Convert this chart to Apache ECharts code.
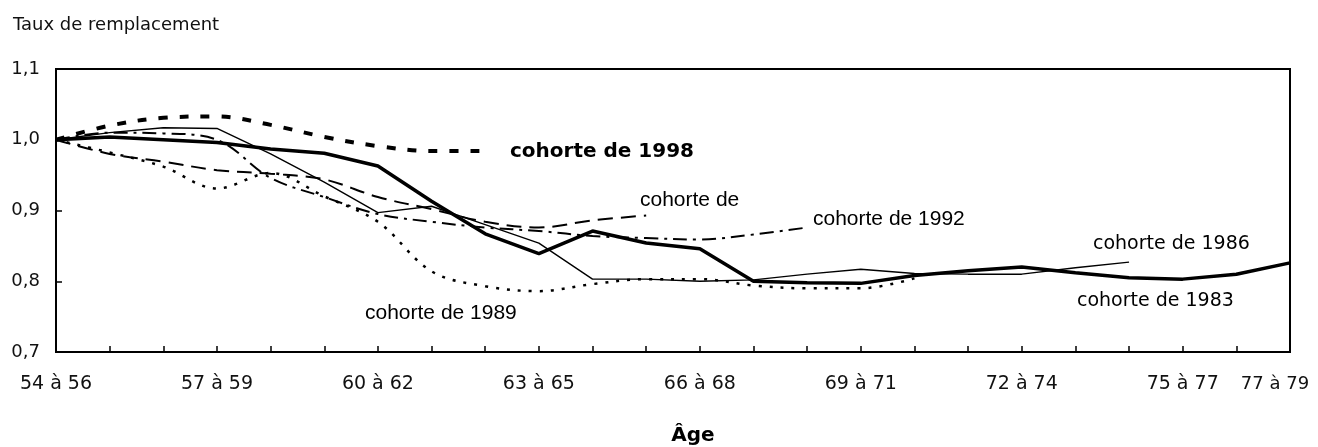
<!DOCTYPE html>
<html>
<head>
    <meta charset="utf-8">
    <title>Taux de remplacement par cohorte</title>
    <style type="text/css">
        body {
            margin: 0;
            background: #fff;
        }
        html, body, #chart {
            width: 1318px;
            height: 447px;
        }
    </style>
</head>
<body>

    <div id="chart"></div>
    <script src="https://cdn.jsdelivr.net/npm/echarts@6/dist/echarts.min.js"></script>

    <script>
        var ages = [
            '54 à 56', '55 à 57', '56 à 58', '57 à 59', '58 à 60', '59 à 61',
            '60 à 62', '61 à 63', '62 à 64', '63 à 65', '64 à 66', '65 à 67',
            '66 à 68', '67 à 69', '68 à 70', '69 à 71', '70 à 72', '71 à 73',
            '72 à 74', '73 à 75', '74 à 76', '75 à 77', '76 à 78', '77 à 79'
        ];

        var cohorte1983 = [1.000, 1.004, 1.000, 0.996, 0.987, 0.981, 0.963, 0.913, 0.867, 0.839, 0.871, 0.854,
                           0.846, 0.800, 0.798, 0.797, 0.808, 0.815, 0.820, 0.812, 0.805, 0.803, 0.810, 0.826];
        var cohorte1986 = [1.000, 1.010, 1.017, 1.016, 0.980, 0.940, 0.897, 0.906, 0.880, 0.854, 0.803, 0.803,
                           0.800, 0.802, 0.810, 0.817, 0.811, 0.810, 0.810, 0.819, 0.827, null, null, null];
        var cohorte1989 = [1.000, 0.982, 0.962, 0.931, 0.953, 0.920, 0.884, 0.814, 0.793, 0.786, 0.796, 0.803,
                           0.803, 0.794, 0.790, 0.790, 0.804, null, null, null, null, null, null, null];
        var cohorte1992 = [1.000, 1.010, 1.009, 1.000, 0.946, 0.919, 0.895, 0.884, 0.876, 0.871, 0.864, 0.861,
                           0.859, 0.866, 0.876, null, null, null, null, null, null, null, null, null];
        var cohorte1995 = [1.000, 0.980, 0.969, 0.957, 0.952, 0.944, 0.919, 0.902, 0.884, 0.876, 0.886, 0.893,
                           null, null, null, null, null, null, null, null, null, null, null, null];
        var cohorte1998 = [1.000, 1.020, 1.031, 1.033, 1.021, 1.004, 0.991, 0.984, 0.984, null, null, null,
                           null, null, null, null, null, null, null, null, null, null, null, null];

        var yTicks = [0.7, 0.8, 0.9, 1.0, 1.1];

        var chart = echarts.init(document.getElementById('chart'));

        function line(name, data, width, dash, smooth) {
            return {
                name: name,
                type: 'line',
                data: data,
                symbol: 'none',
                smooth: smooth,
                connectNulls: false,
                lineStyle: {
                    color: '#000',
                    width: width,
                    type: dash
                },
                silent: true
            };
        }

        function note(text, x, y, font) {
            return {
                type: 'text',
                x: x,
                y: y,
                style: {
                    text: text,
                    fill: '#000',
                    font: font,
                    verticalAlign: 'middle'
                }
            };
        }

        var arial = '21px "Liberation Sans", Arial, sans-serif';
        var futura = '19px "DejaVu Sans", sans-serif';

        chart.setOption({
            animation: false,
            backgroundColor: '#fff',
            title: {
                text: 'Taux de remplacement',
                left: 8,
                top: 11,
                textStyle: {
                    fontFamily: 'DejaVu Sans',
                    fontSize: 18,
                    fontWeight: 'normal',
                    color: '#111'
                }
            },
            grid: {
                left: 56,
                right: 28,
                top: 69,
                bottom: 95,
                containLabel: false,
                outerBoundsMode: 'none',
                show: true,
                borderColor: '#000',
                borderWidth: 2
            },
            xAxis: {
                type: 'category',
                data: ages,
                boundaryGap: false,
                name: 'Âge',
                nameLocation: 'middle',
                nameGap: 74,
                nameTextStyle: {
                    fontFamily: 'DejaVu Sans',
                    fontSize: 20,
                    fontWeight: 'bold',
                    color: '#000',
                    padding: [0, 0, 0, 40]
                },
                axisLine: { lineStyle: { color: '#000', width: 2 } },
                axisTick: {
                    inside: true,
                    length: 6,
                    interval: 0,
                    lineStyle: { color: '#000', width: 1.5 }
                },
                axisLabel: {
                    interval: function (i) {
                        return i % 3 === 0 || i === ages.length - 1;
                    },
                    margin: 23,
                    fontFamily: 'DejaVu Sans',
                    fontSize: 19,
                    color: '#111',
                    formatter: function (v, i) {
                        return i === ages.length - 1 ? '{last|' + v + '}' : v;
                    },
                    rich: {
                        last: {
                            fontFamily: 'DejaVu Sans',
                            fontSize: 18,
                            color: '#111',
                            padding: [0, 30, 4, 0]
                        }
                    }
                },
                splitLine: { show: false }
            },
            yAxis: {
                type: 'value',
                min: yTicks[0],
                max: yTicks[yTicks.length - 1],
                interval: 0.1,
                axisLine: { show: true, lineStyle: { color: '#000', width: 2 } },
                axisTick: {
                    show: true,
                    inside: true,
                    length: 6,
                    lineStyle: { color: '#000', width: 1.5 }
                },
                axisLabel: {
                    margin: 16,
                    fontFamily: 'DejaVu Sans',
                    fontSize: 18,
                    color: '#111',
                    formatter: function (v) {
                        return v.toFixed(1).replace('.', ',');
                    }
                },
                splitLine: { show: false }
            },
            series: [
                line('cohorte de 1983', cohorte1983, 3.5, 'solid', false),
                line('cohorte de 1986', cohorte1986, 1.4, 'solid', false),
                line('cohorte de 1989', cohorte1989, 2.5, [3, 8], 0.35),
                line('cohorte de 1992', cohorte1992, 2, [14, 6, 3, 6], 0.35),
                line('cohorte de 1995', cohorte1995, 2, [15, 8], 0.35),
                line('cohorte de 1998', cohorte1998, 4, [9, 12], 0.35)
            ],
            graphic: [
                note('cohorte de 1998', 510, 152, 'bold 20px "DejaVu Sans", sans-serif'),
                note('cohorte de', 640, 200, arial),
                note('cohorte de 1992', 813, 219, arial),
                note('cohorte de 1989', 365, 313, arial),
                note('cohorte de 1986', 1093, 244, futura),
                note('cohorte de 1983', 1077, 301, futura)
            ]
        });

        window.addEventListener('resize', function () {
            chart.resize();
        });
    </script>
</body>
</html>
